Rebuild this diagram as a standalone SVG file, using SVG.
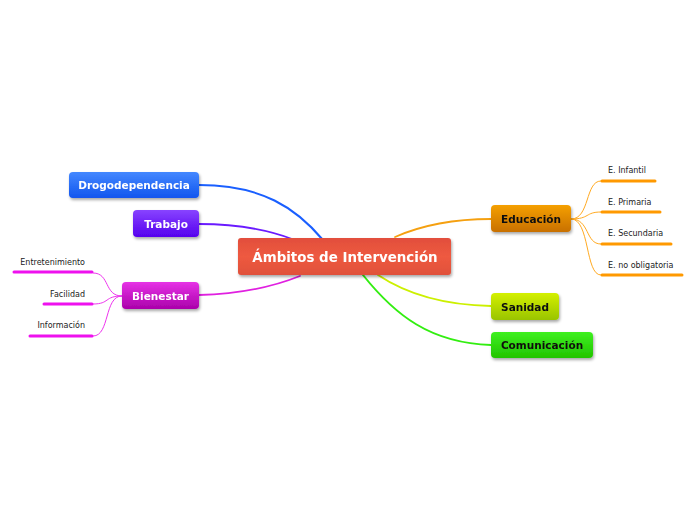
<svg xmlns="http://www.w3.org/2000/svg" width="696" height="520" viewBox="0 0 696 520">
<style>
.t{font-family:"DejaVu Sans",Verdana,sans-serif;font-weight:bold;font-size:10.5px}
.s{font-family:"DejaVu Sans",Verdana,sans-serif;font-size:8px;fill:#222}
.c{fill:none;stroke-linecap:round}
</style>
<defs>
<filter id="sh" x="-20%" y="-30%" width="140%" height="170%">
<feGaussianBlur in="SourceAlpha" stdDeviation="1.5"/>
<feOffset dx="1" dy="2" result="b"/>
<feComponentTransfer><feFuncA type="linear" slope="0.35"/></feComponentTransfer>
<feMerge><feMergeNode/><feMergeNode in="SourceGraphic"/></feMerge>
</filter>
<linearGradient id="gRoot" x1="0" y1="0" x2="0" y2="1"><stop offset="0" stop-color="#E24E3C"/><stop offset="0.5" stop-color="#EE5A40"/><stop offset="1" stop-color="#E0503A"/></linearGradient>
<linearGradient id="gBlue" x1="0" y1="0" x2="0" y2="1"><stop offset="0" stop-color="#4488FF"/><stop offset="1" stop-color="#1155EE"/></linearGradient>
<linearGradient id="gPur" x1="0" y1="0" x2="0" y2="1"><stop offset="0" stop-color="#8844FF"/><stop offset="1" stop-color="#5500EE"/></linearGradient>
<linearGradient id="gMag" x1="0" y1="0" x2="0" y2="1"><stop offset="0" stop-color="#E633E6"/><stop offset="1" stop-color="#AA00AA"/></linearGradient>
<linearGradient id="gOr" x1="0" y1="0" x2="0" y2="1"><stop offset="0" stop-color="#F5A000"/><stop offset="1" stop-color="#C87000"/></linearGradient>
<linearGradient id="gYel" x1="0" y1="0" x2="0" y2="1"><stop offset="0" stop-color="#D4F000"/><stop offset="1" stop-color="#99C400"/></linearGradient>
<linearGradient id="gGr" x1="0" y1="0" x2="0" y2="1"><stop offset="0" stop-color="#3EF020"/><stop offset="1" stop-color="#22C400"/></linearGradient>
</defs>
<rect width="696" height="520" fill="#fff"/>
<g id="connectors">
<path class="c" d="M199,185 C262,185 296,208 323,240" stroke="#1a5fff" stroke-width="2"/>
<path class="c" d="M199,224 C240,224 268,230 292,239" stroke="#6a1aff" stroke-width="1.8"/>
<path class="c" d="M199,295 C240,294 270,288 300,276" stroke="#e020e0" stroke-width="1.8"/>
<path class="c" d="M491,219 C450,219 420,226 395,237" stroke="#f5a010" stroke-width="1.8"/>
<path class="c" d="M491,306 C440,305 405,293 378,275" stroke="#ccf000" stroke-width="1.8"/>
<path class="c" d="M491,345 C430,343 395,315 363,275" stroke="#33ee11" stroke-width="2"/>
<g stroke="#ffaa22" stroke-width="1" fill="none">
<path d="M571,219 C590,219 585,181 601,181"/>
<path d="M571,219 C590,219 585,212 601,212"/>
<path d="M571,219 C590,219 585,244 601,244"/>
<path d="M571,219 C590,219 585,275 601,275"/>
</g>
<g stroke="#ee33ee" stroke-width="1" fill="none">
<path d="M122,296 C104,296 110,273 93,273"/>
<path d="M122,296 C104,296 110,304 93,304"/>
<path d="M122,296 C104,296 110,336 93,336"/>
</g>
</g>
<g id="root" filter="url(#sh)">
<rect x="238" y="238" width="213" height="37" rx="3" fill="url(#gRoot)"/>
<text x="345" y="262" text-anchor="middle" class="t" style="font-size:13.4px" fill="#fff">Ámbitos de Intervención</text>
</g>
<g id="drogodependencia" filter="url(#sh)">
<rect x="69" y="172" width="130" height="26" rx="4" fill="url(#gBlue)"/>
<text x="134" y="189" text-anchor="middle" class="t" fill="#fff">Drogodependencia</text>
</g>
<g id="trabajo" filter="url(#sh)">
<rect x="133" y="210" width="66" height="27" rx="4" fill="url(#gPur)"/>
<text x="166" y="228" text-anchor="middle" class="t" fill="#fff">Trabajo</text>
</g>
<g id="bienestar" filter="url(#sh)">
<rect x="122" y="282" width="77" height="27" rx="4" fill="url(#gMag)"/>
<text x="160.5" y="300" text-anchor="middle" class="t" fill="#fff">Bienestar</text>
</g>
<g id="educacion" filter="url(#sh)">
<rect x="491" y="205" width="80" height="27" rx="4" fill="url(#gOr)"/>
<text x="531" y="223" text-anchor="middle" class="t" fill="#111">Educación</text>
</g>
<g id="sanidad" filter="url(#sh)">
<rect x="491" y="293" width="68" height="27" rx="4" fill="url(#gYel)"/>
<text x="525" y="311" text-anchor="middle" class="t" fill="#111">Sanidad</text>
</g>
<g id="comunicacion" filter="url(#sh)">
<rect x="491" y="332" width="102" height="26" rx="4" fill="url(#gGr)"/>
<text x="542" y="349" text-anchor="middle" class="t" fill="#111">Comunicación</text>
</g>
<g id="e-infantil">
<text x="608" y="173" class="s">E. Infantil</text>
<line x1="602" y1="181" x2="655" y2="181" stroke="#ff9900" stroke-width="3" stroke-linecap="round"/>
</g>
<g id="e-primaria">
<text x="608" y="205" class="s">E. Primaria</text>
<line x1="602" y1="212" x2="660" y2="212" stroke="#ff9900" stroke-width="3" stroke-linecap="round"/>
</g>
<g id="e-secundaria">
<text x="608" y="236" class="s">E. Secundaria</text>
<line x1="602" y1="244" x2="671" y2="244" stroke="#ff9900" stroke-width="3" stroke-linecap="round"/>
</g>
<g id="e-no-obligatoria">
<text x="608" y="268" class="s">E. no obligatoria</text>
<line x1="602" y1="275" x2="682" y2="275" stroke="#ff9900" stroke-width="3" stroke-linecap="round"/>
</g>
<g id="entretenimiento">
<text x="85" y="265" text-anchor="end" class="s">Entretenimiento</text>
<line x1="14" y1="272" x2="92" y2="272" stroke="#ee11ee" stroke-width="3" stroke-linecap="round"/>
</g>
<g id="facilidad">
<text x="85" y="297" text-anchor="end" class="s">Facilidad</text>
<line x1="44" y1="304" x2="92" y2="304" stroke="#ee11ee" stroke-width="3" stroke-linecap="round"/>
</g>
<g id="informacion">
<text x="85" y="328" text-anchor="end" class="s">Información</text>
<line x1="30" y1="336" x2="92" y2="336" stroke="#ee11ee" stroke-width="3" stroke-linecap="round"/>
</g>
</svg>
